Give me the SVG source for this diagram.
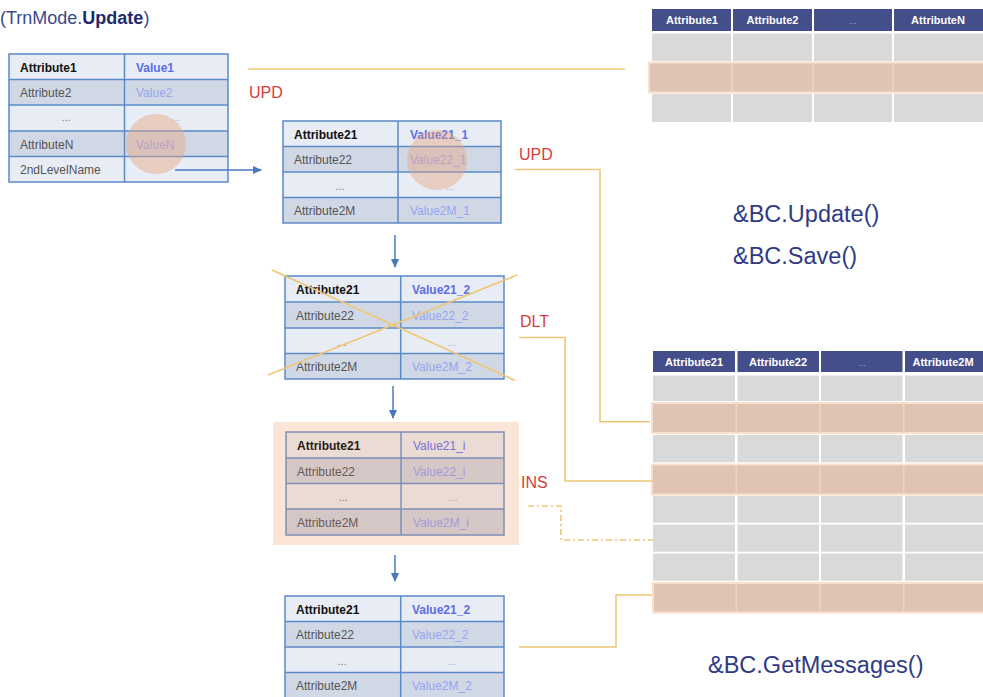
<svg xmlns="http://www.w3.org/2000/svg" width="983" height="697" viewBox="0 0 983 697">
<style>
text{font-family:"Liberation Sans",Arial,sans-serif}
.lt{fill:#e8edf5}
.dk{fill:#d0d8e6}
.plt{fill:#eadcd4}
.pdk{fill:#d5c7c6}
.grid{fill:none;stroke:#5b8ac8;stroke-width:1.5}
.pgrid{fill:none;stroke:#7e90b8;stroke-width:1.5}
.a1{font-size:12px;font-weight:bold;fill:#111}
.an{font-size:12px;fill:#555}
.v1{font-size:12px;font-weight:bold;fill:#5a6ee6}
.vn{font-size:12px;fill:#97a4f0}
.dots{font-size:11px;fill:#777;text-anchor:middle}
.vdots{font-size:11px;fill:#a3aef0;text-anchor:middle}
.pa1{font-size:12px;font-weight:bold;fill:#2a1a18}
.pan{font-size:12px;fill:#6a5a58}
.pv1{font-size:12px;fill:#7a70d8}
.pvn{font-size:12px;fill:#a49ad8}
.circ{fill:#e6a27e;opacity:0.42}
.op{font-size:16px;fill:#d83c3c}
.conn{fill:none;stroke:#f0c674;stroke-width:1.6}
.blue{fill:none;stroke:#4a78c0;stroke-width:1.5}
.hdr{fill:#434e8a}
.ht{font-size:11px;font-weight:bold;fill:#fff;text-anchor:middle}
.hd{font-size:9px;fill:#aab;text-anchor:middle}
.cell{fill:#d9d9d9}
.hl{fill:#dfc4b5;stroke:#fadfcd;stroke-width:2}
.hlsep{stroke:#efd4c4;stroke-width:1.5}
.code{font-size:23.5px;fill:#2f3a86}
</style>
<defs>
<marker id="ah" markerWidth="10" markerHeight="10" refX="8" refY="5" orient="auto" markerUnits="userSpaceOnUse">
<path d="M0,1 L9,5 L0,9 Z" fill="#4a78c0"/>
</marker>
</defs>

<text x="0" y="24" style="font-size:18px;fill:#3a4a8a">(TrnMode.<tspan style="font-weight:bold;fill:#1e2a6e">Update</tspan>)</text>

<g id="table1">
<rect x="9" y="54" width="219" height="25.5" class="lt"/>
<rect x="9" y="79.5" width="219" height="25.5" class="dk"/>
<rect x="9" y="105" width="219" height="26" class="lt"/>
<rect x="9" y="131" width="219" height="25.5" class="dk"/>
<rect x="9" y="156.5" width="219" height="25.5" class="lt"/>
<rect x="9" y="54" width="219" height="128" class="grid"/>
<path d="M124.5,54V182M9,79.5H228M9,105H228M9,131H228M9,156.5H228" class="grid"/>
<text x="20" y="72" class="a1">Attribute1</text>
<text x="136" y="72" class="v1">Value1</text>
<text x="20" y="97" class="an">Attribute2</text>
<text x="136" y="97" class="vn">Value2</text>
<text x="66" y="121" class="dots">...</text>
<text x="176" y="121" class="vdots">...</text>
<text x="20" y="148.5" class="an">AttributeN</text>
<text x="136" y="148.5" class="vn">ValueN</text>
<text x="20" y="174" class="an">2ndLevelName</text>
<circle cx="156" cy="144" r="30" class="circ"/>
</g>

<g id="table2">
<rect x="283" y="121" width="218" height="25.5" class="lt"/>
<rect x="283" y="146.5" width="218" height="25.5" class="dk"/>
<rect x="283" y="172" width="218" height="25.5" class="lt"/>
<rect x="283" y="197.5" width="218" height="25.5" class="dk"/>
<rect x="283" y="121" width="218" height="102" class="grid"/>
<path d="M398,121V223M283,146.5H501M283,172H501M283,197.5H501" class="grid"/>
<text x="294" y="138.5" class="a1">Attribute21</text>
<text x="410" y="138.5" class="v1">Value21_1</text>
<text x="294" y="164" class="an">Attribute22</text>
<text x="410" y="164" class="vn">Value22_1</text>
<text x="340" y="189.5" class="dots">...</text>
<text x="450" y="189.5" class="vdots">...</text>
<text x="294" y="215" class="an">Attribute2M</text>
<text x="410" y="215" class="vn">Value2M_1</text>
<circle cx="437" cy="160" r="30" class="circ"/>
</g>

<g id="table3">
<rect x="285" y="276" width="219" height="26" class="lt"/>
<rect x="285" y="302" width="219" height="26" class="dk"/>
<rect x="285" y="328" width="219" height="25.5" class="lt"/>
<rect x="285" y="353.5" width="219" height="25.5" class="dk"/>
<rect x="285" y="276" width="219" height="103" class="grid"/>
<path d="M400.7,276V379M285,302H504M285,328H504M285,353.5H504" class="grid"/>
<text x="296" y="294" class="a1">Attribute21</text>
<text x="412" y="294" class="v1">Value21_2</text>
<text x="296" y="320" class="an">Attribute22</text>
<text x="412" y="320" class="vn">Value22_2</text>
<text x="342" y="345.5" class="dots">...</text>
<text x="452" y="345.5" class="vdots">...</text>
<text x="296" y="371" class="an">Attribute2M</text>
<text x="412" y="371" class="vn">Value2M_2</text>
<path d="M272,270L515,380.5M268,375L517,275" class="conn"/>
</g>

<g id="table4">
<rect x="273" y="422" width="246" height="123" fill="#fbe5d6"/>
<rect x="286" y="432" width="218" height="26" class="plt"/>
<rect x="286" y="458" width="218" height="25.5" class="pdk"/>
<rect x="286" y="483.5" width="218" height="25.5" class="plt"/>
<rect x="286" y="509" width="218" height="26" class="pdk"/>
<rect x="286" y="432" width="218" height="103" class="pgrid"/>
<path d="M401,432V535M286,458H504M286,483.5H504M286,509H504" class="pgrid"/>
<text x="297" y="450" class="pa1">Attribute21</text>
<text x="413" y="450" class="pv1">Value21_i</text>
<text x="297" y="476" class="pan">Attribute22</text>
<text x="413" y="476" class="pvn">Value22_i</text>
<text x="343" y="501" class="dots">...</text>
<text x="453" y="501" class="dots" style="fill:#b4a8c8">...</text>
<text x="297" y="527" class="pan">Attribute2M</text>
<text x="413" y="527" class="pvn">Value2M_i</text>
</g>

<g id="table5">
<rect x="285" y="596" width="219" height="25.5" class="lt"/>
<rect x="285" y="621.5" width="219" height="25.5" class="dk"/>
<rect x="285" y="647" width="219" height="25.5" class="lt"/>
<rect x="285" y="672.5" width="219" height="26" class="dk"/>
<rect x="285" y="596" width="219" height="103" class="grid"/>
<path d="M400.7,596V699M285,621.5H504M285,647H504M285,672.5H504" class="grid"/>
<text x="296" y="613.5" class="a1">Attribute21</text>
<text x="412" y="613.5" class="v1">Value21_2</text>
<text x="296" y="639" class="an">Attribute22</text>
<text x="412" y="639" class="vn">Value22_2</text>
<text x="342" y="664.5" class="dots">...</text>
<text x="452" y="664.5" class="vdots">...</text>
<text x="296" y="690" class="an">Attribute2M</text>
<text x="412" y="690" class="vn">Value2M_2</text>
</g>

<g id="dbtable1">
<rect x="652" y="9" width="79" height="22" class="hdr"/>
<rect x="733" y="9" width="79" height="22" class="hdr"/>
<rect x="814" y="9" width="78" height="22" class="hdr"/>
<rect x="894" y="9" width="90" height="22" class="hdr"/>
<text x="692" y="24" class="ht">Attribute1</text>
<text x="772.5" y="24" class="ht">Attribute2</text>
<text x="853" y="24" class="hd">...</text>
<text x="938" y="24" class="ht">AttributeN</text>
<rect x="652" y="33.5" width="79" height="27.5" class="cell"/>
<rect x="733" y="33.5" width="79" height="27.5" class="cell"/>
<rect x="814" y="33.5" width="78" height="27.5" class="cell"/>
<rect x="894" y="33.5" width="90" height="27.5" class="cell"/>
<rect x="652" y="94" width="79" height="28" class="cell"/>
<rect x="733" y="94" width="79" height="28" class="cell"/>
<rect x="814" y="94" width="78" height="28" class="cell"/>
<rect x="894" y="94" width="90" height="28" class="cell"/>
<rect x="649" y="62.5" width="340" height="30" class="hl"/>
<path d="M732,63V92M813,63V92M893,63V92" class="hlsep"/>
</g>

<g id="dbtable2">
<rect x="653" y="351" width="82" height="21" class="hdr"/>
<rect x="737.5" y="351" width="81.5" height="21" class="hdr"/>
<rect x="821" y="351" width="81.5" height="21" class="hdr"/>
<rect x="905" y="351" width="80" height="21" class="hdr"/>
<text x="694" y="366" class="ht">Attribute21</text>
<text x="778" y="366" class="ht">Attribute22</text>
<text x="862" y="366" class="hd">...</text>
<text x="943" y="366" class="ht">Attribute2M</text>
<rect x="653" y="375.5" width="82" height="25.5" class="cell"/>
<rect x="737.5" y="375.5" width="81.5" height="25.5" class="cell"/>
<rect x="821" y="375.5" width="81.5" height="25.5" class="cell"/>
<rect x="905" y="375.5" width="80" height="25.5" class="cell"/>
<rect x="653" y="435" width="82" height="27.3" class="cell"/>
<rect x="737.5" y="435" width="81.5" height="27.3" class="cell"/>
<rect x="821" y="435" width="81.5" height="27.3" class="cell"/>
<rect x="905" y="435" width="80" height="27.3" class="cell"/>
<rect x="653" y="496" width="82" height="26.7" class="cell"/>
<rect x="737.5" y="496" width="81.5" height="26.7" class="cell"/>
<rect x="821" y="496" width="81.5" height="26.7" class="cell"/>
<rect x="905" y="496" width="80" height="26.7" class="cell"/>
<rect x="653" y="524.5" width="82" height="27.2" class="cell"/>
<rect x="737.5" y="524.5" width="81.5" height="27.2" class="cell"/>
<rect x="821" y="524.5" width="81.5" height="27.2" class="cell"/>
<rect x="905" y="524.5" width="80" height="27.2" class="cell"/>
<rect x="653" y="553.5" width="82" height="27.2" class="cell"/>
<rect x="737.5" y="553.5" width="81.5" height="27.2" class="cell"/>
<rect x="821" y="553.5" width="81.5" height="27.2" class="cell"/>
<rect x="905" y="553.5" width="80" height="27.2" class="cell"/>
<rect x="652" y="403" width="336" height="30" class="hl"/>
<rect x="652" y="464.5" width="336" height="30" class="hl"/>
<rect x="653" y="583" width="336" height="29.5" class="hl"/>
<path d="M736.3,404V432M820,404V432M903.7,404V432M736.3,465V494M820,465V494M903.7,465V494M736.3,584V612M820,584V612M903.7,584V612" class="hlsep"/>
</g>

<g id="connectors">
<path d="M248,69H625" class="conn"/>
<path d="M515,169.5H600V421.7H650" class="conn"/>
<path d="M519,337.5H565V481H653" class="conn"/>
<path d="M528,506H561V540H653" class="conn" stroke-dasharray="6 3 2 3"/>
<path d="M519,647H616V595H652" class="conn"/>
<path d="M175,170H261" class="blue" marker-end="url(#ah)"/>
<path d="M395,235V267" class="blue" marker-end="url(#ah)"/>
<path d="M393,386V418" class="blue" marker-end="url(#ah)"/>
<path d="M395,555V581" class="blue" marker-end="url(#ah)"/>
</g>

<text x="249" y="98" class="op">UPD</text>
<text x="519" y="160" class="op">UPD</text>
<text x="520" y="327" class="op">DLT</text>
<text x="521" y="488" class="op">INS</text>

<text x="733" y="222" class="code">&amp;BC.Update()</text>
<text x="733" y="264" class="code">&amp;BC.Save()</text>
<text x="708" y="673" class="code">&amp;BC.GetMessages()</text>
</svg>
